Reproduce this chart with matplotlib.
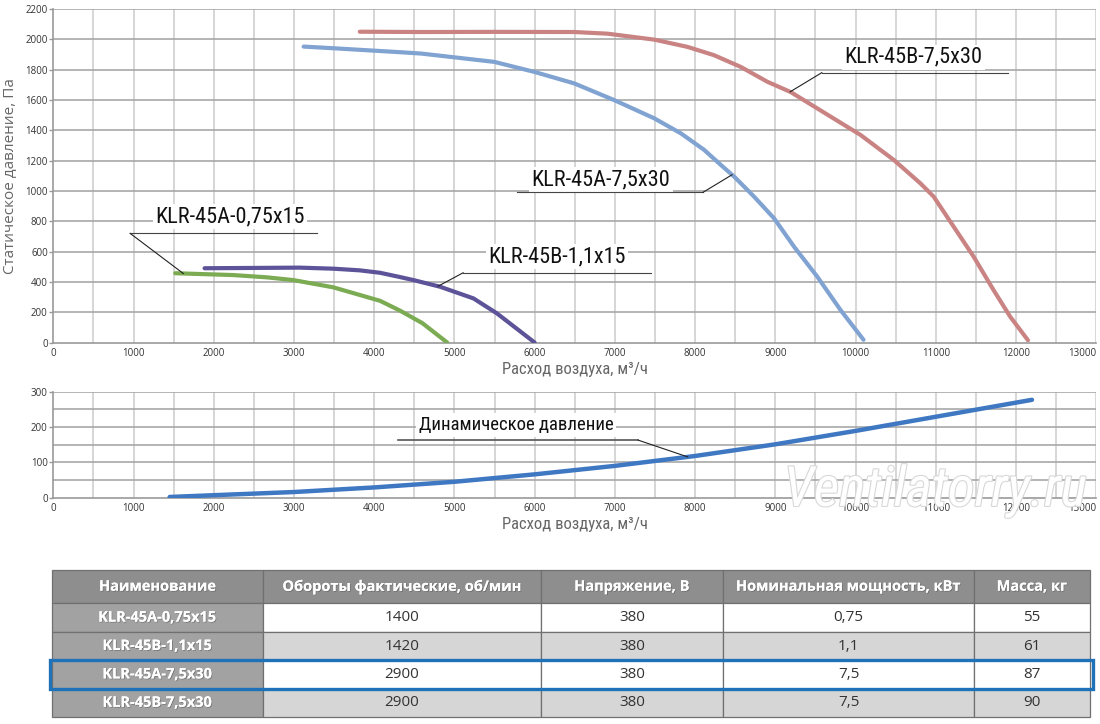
import numpy as np
import matplotlib
matplotlib.use('Agg')
import matplotlib.pyplot as plt
import matplotlib.patheffects as pe
from matplotlib import font_manager
from matplotlib.patches import Rectangle

# --- data ---
# static pressure curves (flow m3/h, pressure Pa)
q_45a_075 = [1520, 2240, 2660, 2990, 3490, 3740, 4073, 4323, 4600, 4910]
p_45a_075 = [457, 445, 430, 412, 364, 326, 275, 210, 128, 0]

q_45b_11 = [1885, 2500, 3070, 3490, 3820, 4073, 4320, 4488, 4821, 5237, 5528, 6000]
p_45b_11 = [490, 492, 494, 487, 476, 460, 432, 412, 368, 291, 193, 0]

q_45a_75 = [3120, 3490, 4320, 4585, 5498, 5996, 6494, 6992, 7490, 7822, 8112, 8322,
            8488, 8736, 8985, 9234, 9524, 9814, 10100]
p_45a_75 = [1952, 1941, 1915, 1906, 1851, 1785, 1709, 1599, 1479, 1380, 1271, 1171,
            1094, 962, 819, 632, 434, 214, 18]

q_45b_75 = [3820, 4585, 5500, 6494, 6909, 7490, 7905, 8237, 8569, 8901, 9192, 9358,
            9690, 10063, 10478, 10809, 10975, 11224, 11473, 11721, 11929, 12150]
p_45b_75 = [2050, 2048, 2049, 2048, 2037, 1998, 1950, 1895, 1818, 1720, 1652, 1598,
            1490, 1369, 1204, 1050, 962, 764, 566, 346, 170, 15]

# dynamic pressure
q_dyn = [1450, 2000, 3000, 4000, 5000, 6000, 7000, 8000, 9000, 10000, 11000, 12200]
p_dyn = [2, 7, 16, 29, 45, 66, 90, 118, 151, 189, 229, 277]

# table
col_labels = ['Наименование', 'Обороты фактические, об/мин', 'Напряжение, В',
              'Номинальная мощность, кВт', 'Масса, кг']
names = ['KLR-45A-0,75x15', 'KLR-45B-1,1x15', 'KLR-45A-7,5x30', 'KLR-45B-7,5x30']
rpm = [1400, 1420, 2900, 2900]
voltage = [380, 380, 380, 380]
power = ['0,75', '1,1', '7,5', '7,5']
mass = [55, 61, 87, 90]
highlight_row = 2

# --- fonts ---
avail = {f.name for f in font_manager.fontManager.ttflist}
narrow = next((n for n in ['Liberation Sans Narrow', 'Roboto Condensed', 'Open Sans Condensed']
               if n in avail), None)
if narrow:
    nfont = dict(family=[narrow, 'DejaVu Sans'])
else:
    nfont = dict(family=['DejaVu Sans'], stretch='condensed')
base = 'Open Sans' if 'Open Sans' in avail else 'DejaVu Sans'
plt.rcParams['font.family'] = [base, 'DejaVu Sans']

fig = plt.figure(figsize=(11, 7.24), dpi=100)

grid_h = '#a8a8a8'
grid_v = '#d6d6d6'


def style_axes(ax, xmax, ymax, ystep, yminor):
    ax.set_xlim(0, xmax)
    ax.set_ylim(0, ymax)
    for s in ['top', 'right']:
        ax.spines[s].set_visible(False)
    for s in ['left', 'bottom']:
        ax.spines[s].set_color('#999999')
        ax.spines[s].set_linewidth(1.2)
    ax.set_xticks(np.arange(0, xmax + 1, 1000))
    ax.set_yticks(np.arange(0, ymax + 1, ystep))
    ax.tick_params(axis='x', length=0, pad=4, labelsize=7, labelcolor='#333333')
    ax.tick_params(axis='y', length=3, width=1, color='#999999', pad=1,
                   labelsize=7, labelcolor='#333333')
    ax.get_xticklabels()[-1].set_horizontalalignment('right')
    for x in np.arange(500, xmax + 1, 500):
        ax.axvline(x, color=grid_v, lw=1.4, zorder=0)
    for y in np.arange(yminor, ymax + 1, yminor):
        ax.axhline(y, color=grid_h, lw=1.2, zorder=0)


# --- top chart: static pressure ---
ax1 = fig.add_axes([0.0485, 0.5269, 0.948, 0.4607])
style_axes(ax1, 13000, 2200, 200, 200)

curves = [
    (q_45a_075, p_45a_075, '#7bab52'),
    (q_45b_11, p_45b_11, '#5d5399'),
    (q_45a_75, p_45a_75, '#81a3d2'),
    (q_45b_75, p_45b_75, '#c98383'),
]
for q, p, c in curves:
    ax1.plot(q, p, color=c, lw=3, solid_capstyle='round', solid_joinstyle='round', zorder=3)

ax1.set_ylabel('Статическое давление, Па', fontsize=11, color='#666666')
ax1.yaxis.set_label_coords(-0.034, 0.5)
ax1.set_xlabel('Расход воздуха, м³/ч', fontsize=12, color='#666666', labelpad=2, **nfont)

# label: (text, text x, text y, underline y, underline x0, x1, leader side, curve index, anchor q)
labels_top = [
    ('KLR-45A-0,75x15', 2203, 830, 720, 957, 3287, 'left', 0, 1620),
    ('KLR-45B-1,1x15', 6280, 566, 460, 5108, 7451, 'left', 1, 4796),
    ('KLR-45A-7,5x30', 6828, 1072, 991, 5776, 8100, 'right', 2, 8461),
    ('KLR-45B-7,5x30', 10724, 1881, 1780, 9580, 11903, 'left', 3, 9185),
]
for txt, tx, ty, uy, ux0, ux1, side, ci, aq in labels_top:
    q, p, _ = curves[ci]
    ap = np.interp(aq, q, p)
    ax1.text(tx, ty, txt, ha='center', va='center', fontsize=16, color='#111111', zorder=5,
             bbox=dict(boxstyle='square,pad=0.1', fc='white', ec='none'), **nfont)
    ax1.plot([ux0, ux1], [uy, uy], color='#444444', lw=0.8, zorder=6)
    lx = ux0 if side == 'left' else ux1
    ax1.plot([lx, aq], [uy, ap], color='#222222', lw=0.8, zorder=6)

# --- bottom chart: dynamic pressure ---
ax2 = fig.add_axes([0.0485, 0.3126, 0.948, 0.1464])
style_axes(ax2, 13000, 300, 100, 50)
ax2.plot(q_dyn, p_dyn, color='#3f78c2', lw=3.2, solid_capstyle='round', zorder=3)
ax2.set_xlabel('Расход воздуха, м³/ч', fontsize=12, color='#666666', labelpad=2, **nfont)

ax2.text(5769, 206, 'Динамическое давление', ha='center', va='center', fontsize=13.5,
         color='#111111', zorder=5,
         bbox=dict(boxstyle='square,pad=0.15', fc='white', ec='none'), **nfont)
ax2.plot([4297, 7289], [163, 163], color='#555555', lw=1.2, zorder=6)
ax2.plot([7289, 7908], [163, np.interp(7908, q_dyn, p_dyn)], color='#222222', lw=0.8, zorder=6)

# watermark
fig.text(0.85, 0.322, 'Ventilatorry.ru', ha='center', va='center', fontsize=40,
         style='italic', color='white', zorder=10,
         path_effects=[pe.withStroke(linewidth=1.6, foreground='#d8d8d8')], **nfont)

# --- table ---
axt = fig.add_axes([52 / 1100, 1 - 717 / 724, (1090 - 52) / 1100, 147 / 724])
axt.axis('off')
cell_text = [[n, str(r), str(v), pw, str(m)]
             for n, r, v, pw, m in zip(names, rpm, voltage, power, mass)]
col_w = [211, 278, 182, 251, 116]
col_w = [w / sum(col_w) for w in col_w]
tbl = axt.table(cellText=cell_text, colLabels=col_labels, colWidths=col_w,
                cellLoc='center', bbox=[0, 0, 1, 1])
tbl.auto_set_font_size(False)
row_h = [33] + [28] * len(names)
shadow = [pe.withSimplePatchShadow(offset=(0.6, -0.6), shadow_rgbFace='#555555', alpha=0.6),
          pe.Normal()]
for (r, c), cell in tbl.get_celld().items():
    cell.set_height(row_h[r])
    cell.set_edgecolor('#707070')
    cell.set_linewidth(0.9)
    t = cell.get_text()
    if r == 0:
        cell.set_facecolor('#8e8e8e')
        t.set_color('white')
        t.set_fontweight('bold')
        t.set_fontsize(10.5)
        t.set_path_effects(shadow)
    elif c == 0:
        cell.set_facecolor('#a2a2a2')
        t.set_color('white')
        t.set_fontweight('bold')
        t.set_fontsize(10.5)
        t.set_path_effects(shadow)
    else:
        cell.set_facecolor('white' if r % 2 == 1 else '#d6d6d6')
        t.set_color('#333333')
        t.set_fontsize(11)

total_h = sum(row_h)
top_off = sum(row_h[:highlight_row + 1])
y0 = 1 - (top_off + row_h[highlight_row + 1]) / total_h
y1 = 1 - top_off / total_h
axt.add_patch(Rectangle((-0.0015, y0), 1.0045, y1 - y0, fill=False, ec='#1f72b8', lw=2.4,
                        transform=axt.transAxes, clip_on=False, zorder=10))

fig.savefig('out.png', dpi=100)
